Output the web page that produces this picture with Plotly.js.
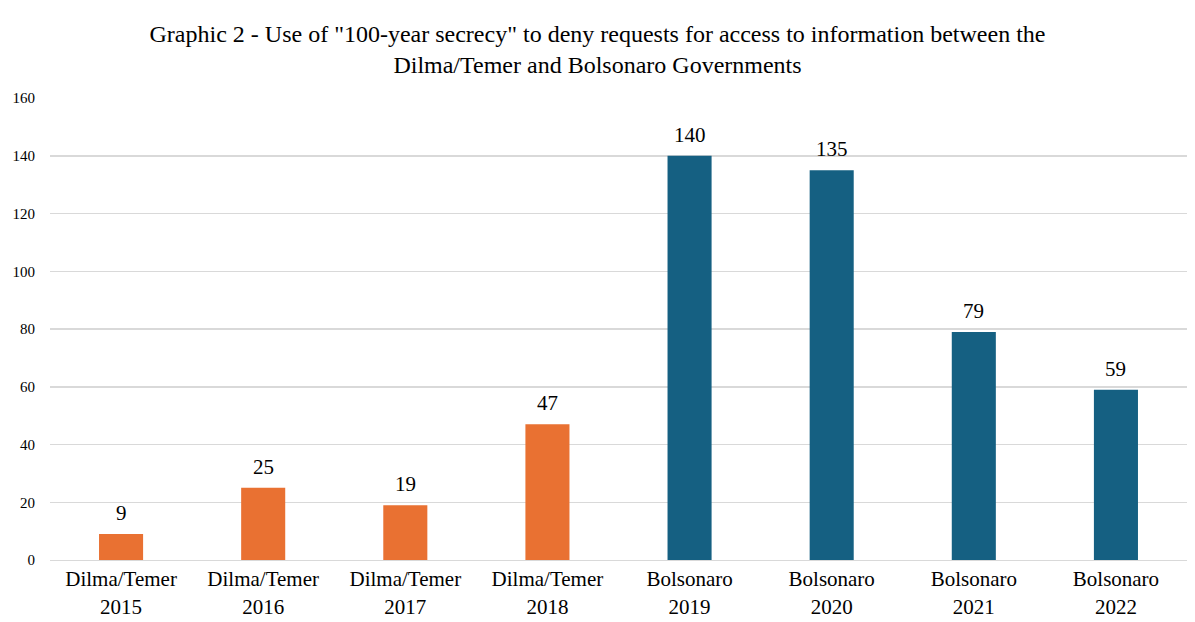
<!DOCTYPE html>
<html>
<head>
<meta charset="utf-8">
<script src="https://cdn.plot.ly/plotly-3.0.1.min.js"></script>
<style>html,body{margin:0;padding:0;background:#fff;}#chart{width:1195px;height:622px;}</style>
</head>
<body>
<div id="chart"></div>
<script>
const governments = ["Dilma/Temer","Dilma/Temer","Dilma/Temer","Dilma/Temer","Bolsonaro","Bolsonaro","Bolsonaro","Bolsonaro"];
const years = ["2015","2016","2017","2018","2019","2020","2021","2022"];
const values = [9, 25, 19, 47, 140, 135, 79, 59];
const yTicks = [0, 20, 40, 60, 80, 100, 120, 140, 160];

const serif = "Liberation Serif, Times New Roman, serif";
const categories = governments.map((g, i) => g + "<br>" + years[i]);
const colorFor = {"Dilma/Temer": "#E97132", "Bolsonaro": "#156082"};

const traces = ["Dilma/Temer", "Bolsonaro"].map(gov => {
  const idx = governments.map((g, i) => g === gov ? i : -1).filter(i => i >= 0);
  return {
    type: "bar",
    x: idx.map(i => categories[i]),
    y: idx.map(i => values[i]),
    marker: {color: colorFor[gov]},
    width: 0.31,
    name: gov,
    hoverinfo: "x+y"
  };
});

const annotations = values.map((v, i) => ({
  x: categories[i],
  y: v,
  xref: "x",
  yref: "y",
  text: String(v),
  showarrow: false,
  yanchor: "bottom",
  yshift: 7,
  font: {family: serif, size: 21, color: "#000"}
}));

const layout = {
  width: 1195,
  height: 622,
  margin: {l: 50, r: 8, t: 98, b: 62},
  paper_bgcolor: "#fff",
  plot_bgcolor: "#fff",
  showlegend: false,
  barmode: "overlay",
  annotations: annotations,
  title: {
    text: "Graphic 2 - Use of \"100-year secrecy\" to deny requests for access to information between the<br>Dilma/Temer and Bolsonaro Governments",
    font: {family: serif, size: 24, color: "#000"},
    x: 0.5, xanchor: "center", y: 0.932, yanchor: "top"
  },
  xaxis: {
    type: "category",
    categoryorder: "array",
    categoryarray: categories,
    tickfont: {family: serif, size: 21, color: "#000"},
    showline: true,
    linecolor: "#d9d9d9",
    linewidth: 1,
    ticks: "",
    fixedrange: true
  },
  yaxis: {
    range: [0, 160],
    tickvals: yTicks,
    ticktext: yTicks.map(String),
    tickfont: {family: serif, size: 15, color: "#000"},
    gridcolor: "#d9d9d9",
    gridwidth: 1.5,
    zeroline: false,
    ticks: "",
    ticklabelstandoff: 14,
    fixedrange: true
  }
};

Plotly.newPlot("chart", traces, layout, {displayModeBar: false, staticPlot: true});
</script>
</body>
</html>
